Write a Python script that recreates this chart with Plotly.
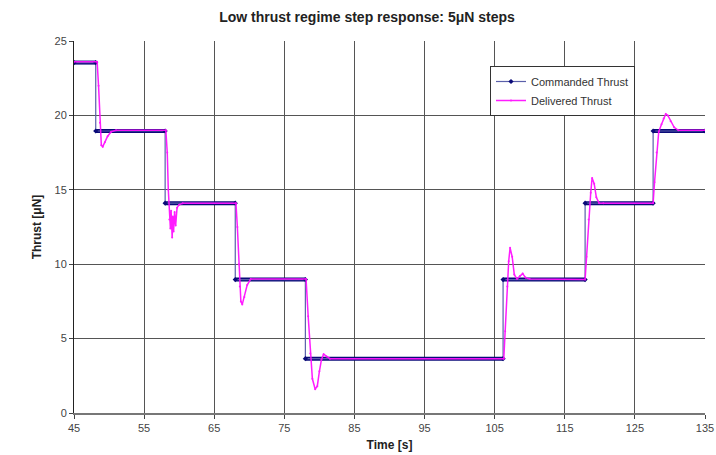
import plotly.graph_objects as go

# Commanded thrust: step times (s) and levels (uN)
cmd_edges = [45.0, 48.1, 58.0, 68.0, 78.0, 106.2, 117.9, 127.6, 135.0]
cmd_levels = [23.55, 18.95, 14.1, 8.97, 3.65, 8.97, 14.1, 18.95]

# Delivered thrust samples
del_time = [45.0, 48.3, 48.5, 48.7, 48.9, 49.1, 49.4, 49.8, 50.3, 51.0,
            58.1, 58.3, 58.45, 58.6, 58.75, 58.85, 59.0, 59.1, 59.2, 59.35, 59.5, 59.7, 60.0, 60.5,
            68.1, 68.3, 68.5, 68.65, 68.8, 69.0, 69.3, 69.7, 70.2,
            78.1, 78.4, 78.7, 79.0, 79.4, 79.7, 80.0, 80.3, 80.6, 81.0, 81.5,
            106.3, 106.5, 106.8, 107.0, 107.2, 107.5, 107.8, 108.2, 108.6, 109.0, 109.4, 110.0,
            117.9, 118.1, 118.4, 118.7, 118.9, 119.2, 119.5, 119.9, 120.5,
            127.6, 127.8, 128.1, 128.4, 128.8, 129.1, 129.4, 129.7, 130.1, 130.6, 131.2, 135.0]
del_thrust = [23.6, 23.6, 22.0, 19.5, 18.0, 17.9, 18.2, 18.6, 18.9, 19.0,
              19.0, 17.5, 15.0, 13.0, 12.4, 13.6, 11.8, 13.2, 12.2, 13.5, 12.6, 13.8, 14.0, 14.1,
              14.1, 12.5, 10.0, 8.5, 7.5, 7.3, 7.8, 8.6, 9.0,
              9.0, 6.5, 4.0, 2.3, 1.6, 1.8, 2.8, 3.6, 3.95, 3.8, 3.65,
              3.65, 5.5, 8.5, 10.2, 11.1, 10.5, 9.3, 9.0, 9.2, 9.37, 9.1, 9.0,
              8.97, 10.5, 13.0, 14.8, 15.8, 15.4, 14.5, 14.1, 14.1,
              14.1, 15.5, 17.5, 18.9, 19.4, 19.8, 20.1, 20.0, 19.6, 19.2, 19.0, 19.0]

x_ticks = [45, 55, 65, 75, 85, 95, 105, 115, 125, 135]
y_ticks = [0, 5, 10, 15, 20, 25]

# build step-line coordinates from the lists
cmd_x, cmd_y = [], []
seg_x, seg_y = [], []
for i, lv in enumerate(cmd_levels):
    cmd_x += [cmd_edges[i], cmd_edges[i + 1]]
    cmd_y += [lv, lv]
    seg_x += [cmd_edges[i], cmd_edges[i + 1], None]
    seg_y += [lv, lv, None]

NAVY = "#0a0a78"
MAG = "#ff10ff"

fig = go.Figure()
fig.add_trace(go.Scatter(
    x=seg_x, y=seg_y, mode="lines", showlegend=False, hoverinfo="skip",
    line=dict(color=NAVY, width=4)))
fig.add_trace(go.Scatter(
    x=cmd_x, y=cmd_y, mode="lines+markers", name="Commanded Thrust",
    line=dict(color="#5a60aa", width=1.2),
    marker=dict(symbol="diamond", size=4, color=NAVY)))
fig.add_trace(go.Scatter(
    x=del_time, y=del_thrust, mode="lines+markers", name="Delivered Thrust",
    line=dict(color=MAG, width=1.5),
    marker=dict(symbol="circle", size=2, color=MAG),
    opacity=0.95))

FONT = "Arial, Liberation Sans, sans-serif"
W, H = 716, 455
L, R, T, B = 74, 11, 41, 42
PW, PH = W - L - R, H - T - B
fig.update_layout(
    width=W, height=H,
    margin=dict(l=L, r=R, t=T, b=B, autoexpand=False),
    paper_bgcolor="white", plot_bgcolor="white",
    font=dict(family=FONT, size=11, color="#333"),
    title=dict(text="<b>Low thrust regime step response: 5\u03bcN steps</b>",
               x=367 / W, xanchor="center", y=1 - 17 / H, yanchor="middle",
               font=dict(size=14, color="#222")),
    showlegend=True,
    legend=dict(x=(490 - L) / PW, y=1 - (66 - T) / PH,
                xanchor="left", yanchor="top",
                bgcolor="white", bordercolor="#333", borderwidth=1,
                font=dict(size=11, color="#333"), tracegroupgap=0,
                itemwidth=30),
)
fig.update_xaxes(
    range=[45, 135], tickvals=x_ticks, ticktext=[str(t) for t in x_ticks],
    showgrid=True, gridcolor="#555", gridwidth=1.2,
    zeroline=False, showline=True, linecolor="#777", linewidth=1.5,
    ticks="outside", ticklen=4, tickcolor="#444",
    tickfont=dict(size=11, color="#444"),
    title=dict(text="<b>Time [s]</b>", font=dict(size=12, color="#222"), standoff=8),
)
fig.update_yaxes(
    range=[0, 25], tickvals=y_ticks,
    showgrid=True, gridcolor="#555", gridwidth=1.2,
    zeroline=False, showline=True, linecolor="#222", linewidth=1,
    ticks="outside", ticklen=4, tickcolor="#444",
    tickfont=dict(size=11, color="#444"),
    title=dict(text="<b>Thrust [\u03bcN]</b>", font=dict(size=12, color="#222"), standoff=10),
)
fig.write_html("out.html", config={"displayModeBar": False},
               post_script="document.body.style.margin='0';document.body.style.overflow='hidden';")
